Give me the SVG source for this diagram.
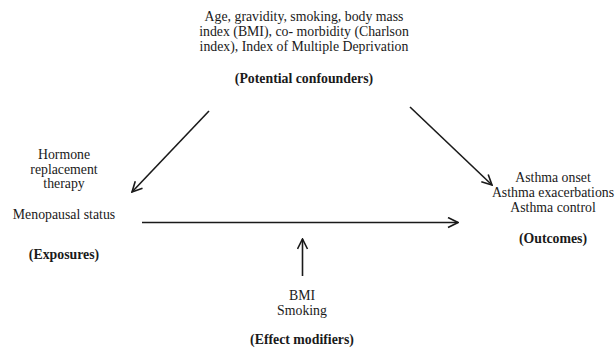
<svg xmlns="http://www.w3.org/2000/svg" width="615" height="348" viewBox="0 0 615 348">
<defs>
<style>
text{font-family:"Liberation Serif","Times New Roman",serif;font-size:13.8px;fill:#1a1a1a;text-anchor:middle}
.b{font-weight:bold}
.c{stroke:#1a1a1a;stroke-width:1.6;fill:none}
</style>
<marker id="ah" viewBox="0 0 12 12" refX="11" refY="6" markerWidth="12" markerHeight="12" markerUnits="userSpaceOnUse" orient="auto">
<path d="M1,1 L11,6 L1,11" fill="none" stroke="#1a1a1a" stroke-width="1.6"/>
</marker>
</defs>
<rect width="615" height="348" fill="#fff"/>
<g id="confounders">
<text x="304" y="21">Age, gravidity, smoking, body mass</text>
<text x="304" y="36">index (BMI), co- morbidity (Charlson</text>
<text x="304" y="51">index), Index of Multiple Deprivation</text>
<text x="304" y="83" class="b">(Potential confounders)</text>
</g>
<g id="exposures">
<text x="64" y="159">Hormone</text>
<text x="64" y="174">replacement</text>
<text x="64" y="188">therapy</text>
<text x="64" y="219">Menopausal status</text>
<text x="64" y="259" class="b">(Exposures)</text>
</g>
<g id="outcomes">
<text x="553" y="182">Asthma onset</text>
<text x="553" y="197">Asthma exacerbations</text>
<text x="553" y="212">Asthma control</text>
<text x="553" y="243" class="b">(Outcomes)</text>
</g>
<g id="modifiers">
<text x="302" y="300">BMI</text>
<text x="302" y="315">Smoking</text>
<text x="302" y="344" class="b">(Effect modifiers)</text>
</g>
<g id="connectors">
<line class="c" x1="209" y1="111" x2="132" y2="192" marker-end="url(#ah)"/>
<line class="c" x1="410" y1="107" x2="492" y2="185" marker-end="url(#ah)"/>
<line class="c" x1="142" y1="222.5" x2="458" y2="222.5" marker-end="url(#ah)"/>
<line class="c" x1="302.5" y1="276" x2="302.5" y2="239" marker-end="url(#ah)"/>
</g>
</svg>
